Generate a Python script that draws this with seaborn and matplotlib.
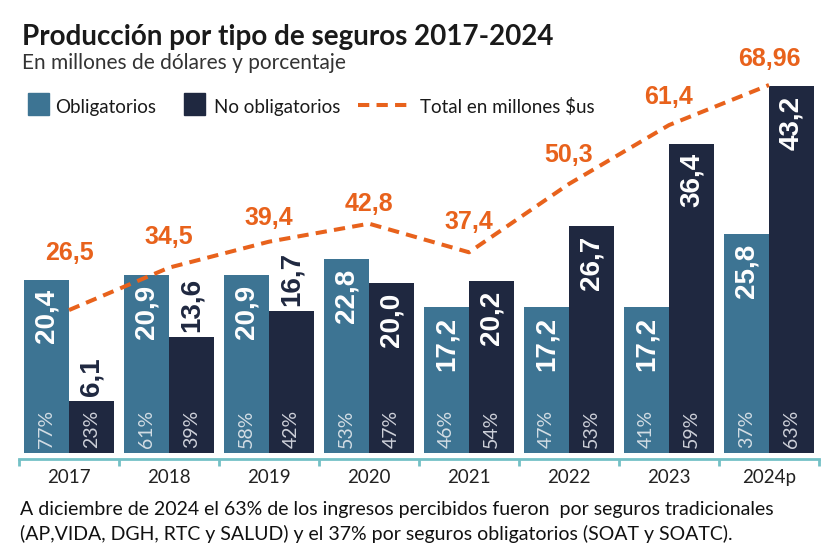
import matplotlib
matplotlib.use('Agg')
import matplotlib.pyplot as plt
import seaborn as sns
import pandas as pd
from matplotlib.patches import Rectangle
from matplotlib.lines import Line2D

# Data (millions of USD and shares)
years = ['2017', '2018', '2019', '2020', '2021', '2022', '2023', '2024p']
obligatorios = [20.4, 20.9, 20.9, 22.8, 17.2, 17.2, 17.2, 25.8]
no_obligatorios = [6.1, 13.6, 16.7, 20.0, 20.2, 26.7, 36.4, 43.2]
total = [26.5, 34.5, 39.4, 42.8, 37.4, 50.3, 61.4, 68.96]
pct_oblig = [77, 61, 58, 53, 46, 47, 41, 37]
pct_no_oblig = [23, 39, 42, 47, 54, 53, 59, 63]

# Colours
c_oblig = '#3d7493'
c_no = '#1f2840'
c_total = '#e8621c'
c_axis = '#74c1c6'

sns.set_style('white')
text_font = ['Lato', 'DejaVu Sans']
plt.rcParams['font.family'] = text_font

W, H = 837, 558
fig = plt.figure(figsize=(W / 100, H / 100), dpi=100)
fig.patch.set_facecolor('white')

def fx(x):
    return x / W

def fy(y):
    return 1 - y / H

# axes from x=19..819 px, y=60..459 px
ax = fig.add_axes([fx(19), fy(459), 800 / W, 399 / H])

df = pd.DataFrame({
    'Año': years * 2,
    'Valor': obligatorios + no_obligatorios,
    'Tipo': ['Obligatorios'] * len(years) + ['No obligatorios'] * len(years),
})

sns.barplot(data=df, x='Año', y='Valor', hue='Tipo', order=years,
            hue_order=['Obligatorios', 'No obligatorios'],
            palette=[c_oblig, c_no], width=0.9, gap=0, saturation=1,
            legend=False, ax=ax, linewidth=0)

ax.set_xlim(-0.5, len(years) - 0.5)
ax.set_ylim(-0.706, 46.24)

def fmt(v):
    return str(v).replace('.', ',')

bold_font = ['Liberation Sans', 'DejaVu Sans']
pct_font = ['Lato', 'DejaVu Sans']

# Obligatorios labels
for bar, v, p in zip(ax.containers[0], obligatorios, pct_oblig):
    xc = bar.get_x() + bar.get_width() / 2
    ax.annotate(fmt(v), (xc, v), xytext=(0, -7), textcoords='offset points',
                rotation=90, ha='center', va='top', color='white',
                fontsize=20, fontweight='bold', family=bold_font)
    ax.annotate(f'{p}%', (xc, 0), xytext=(0, 3.5), textcoords='offset points',
                rotation=90, ha='center', va='bottom', color='#d3dde4',
                fontsize=14, family=pct_font)

# No obligatorios labels
for bar, v, p in zip(ax.containers[1], no_obligatorios, pct_no_oblig):
    xc = bar.get_x() + bar.get_width() / 2
    if v < 20:
        ax.annotate(fmt(v), (xc, v), xytext=(0, 4), textcoords='offset points',
                    rotation=90, ha='center', va='bottom', color=c_no,
                    fontsize=20, fontweight='bold', family=bold_font)
    else:
        ax.annotate(fmt(v), (xc, v), xytext=(0, -7), textcoords='offset points',
                    rotation=90, ha='center', va='top', color='white',
                    fontsize=20, fontweight='bold', family=bold_font)
    ax.annotate(f'{p}%', (xc, 0), xytext=(0, 3.5), textcoords='offset points',
                rotation=90, ha='center', va='bottom', color='#cdd0d9',
                fontsize=14, family=pct_font)

# Total line on its own scale
ax2 = ax.twinx()
ax2.set_ylim(-1.6, 73.68)
ax2.plot(range(len(years)), total, color=c_total, lw=2.9,
         linestyle=(0, (2.8, 1.8)), zorder=5)
label_dy = [41, 22, 17, 14, 22, 21, 20, 19]
for i, (v, dy) in enumerate(zip(total, label_dy)):
    ax2.annotate(fmt(v), (i, v), xytext=(0, dy), textcoords='offset points',
                 ha='center', va='center', color=c_total,
                 fontsize=18, fontweight='bold', family=bold_font)

# Axis styling
for a in (ax, ax2):
    for s in ('top', 'right', 'left'):
        a.spines[s].set_visible(False)
    a.set_yticks([])
    a.set_ylabel('')
ax2.spines['bottom'].set_visible(False)
ax.spines['bottom'].set_color(c_axis)
ax.spines['bottom'].set_linewidth(2)
ax.set_xlabel('')
ax.set_xticks(range(len(years)))
ax.set_xticklabels(years, fontsize=13.5, color='#222222', family=text_font)
ax.tick_params(axis='x', which='major', bottom=True, length=0, pad=7)
ax.set_xticks([i - 0.5 for i in range(len(years) + 1)], minor=True)
ax.tick_params(axis='x', which='minor', bottom=True, length=5, width=2,
               color=c_axis, direction='out')

# Title and subtitle
fig.text(fx(22), fy(45), 'Producción por tipo de seguros 2017-2024',
         fontsize=20, fontweight='bold', color='#1a1a1a', va='baseline',
         family=text_font)
fig.text(fx(22), fy(69), 'En millones de dólares y porcentaje',
         fontsize=15, color='#333333', va='baseline', family=text_font)

# Legend
fig.add_artist(Rectangle((fx(28), fy(115)), 21 / W, 22 / H,
                         transform=fig.transFigure, color=c_oblig))
fig.text(fx(55), fy(113), 'Obligatorios', fontsize=13.5, color='#1a1a1a',
         va='baseline', family=text_font)
fig.add_artist(Rectangle((fx(184), fy(115)), 21 / W, 22 / H,
                         transform=fig.transFigure, color=c_no))
fig.text(fx(214), fy(113), 'No obligatorios', fontsize=13.5, color='#1a1a1a',
         va='baseline', family=text_font)
fig.add_artist(Line2D([fx(358), fx(410)], [fy(105), fy(105)],
                      transform=fig.transFigure, color=c_total, lw=2.9,
                      linestyle=(0, (2.8, 1.8))))
fig.text(fx(420), fy(113), 'Total en millones $us', fontsize=13.5,
         color='#1a1a1a', va='baseline', family=text_font)

# Footnote
fig.text(fx(20), fy(515),
         'A diciembre de 2024 el 63% de los ingresos percibidos fueron  por seguros tradicionales',
         fontsize=14, color='#111111', va='baseline', family=text_font)
fig.text(fx(20), fy(540),
         '(AP,VIDA, DGH, RTC y SALUD) y el 37% por seguros obligatorios (SOAT y SOATC).',
         fontsize=14, color='#111111', va='baseline', family=text_font)

fig.savefig('out.png', dpi=100, facecolor='white')
